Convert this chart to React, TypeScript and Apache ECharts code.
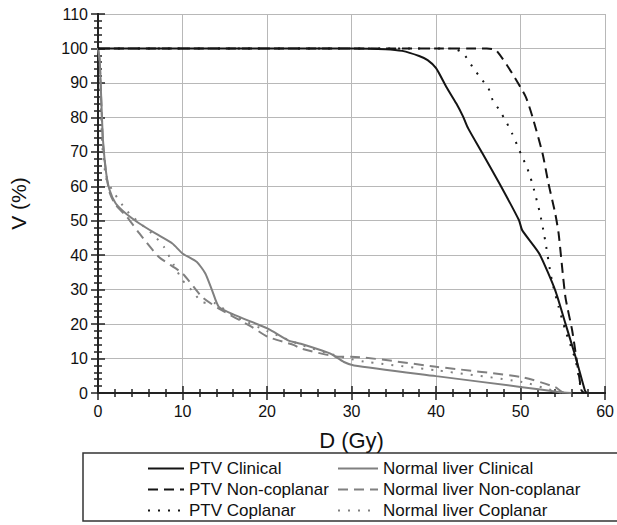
import React, { useEffect, useRef } from "react";
import * as echarts from "echarts";

const ptvClinicalD = [0, 30, 34, 36, 38, 39, 40, 41.2, 42.4, 43.2, 43.8, 45.5, 47.5, 49.8, 50.2, 52.2, 54.1, 55.3, 56.5, 57.6, 57.8];
const ptvClinicalV = [100, 100, 99.8, 99.3, 97.8, 96.6, 94.3, 88.9, 84.0, 80.2, 76.8, 69.5, 60.8, 50.2, 47.2, 40.5, 29.8, 20.2, 10.5, 0.8, 0];

const ptvNonD = [0, 40, 46, 47.1, 49.0, 50.6, 51.4, 52.6, 53.3, 54.1, 54.5, 55.3, 56.1, 56.7, 57.2, 57.5];
const ptvNonV = [100, 100, 100, 99.5, 92.8, 86, 80.2, 69.5, 60.8, 52.1, 46.3, 27.9, 18.2, 8.5, 0.8, 0];

const ptvCopD = [0, 42, 43.2, 44.3, 45.3, 46.2, 46.7, 47.5, 48.3, 49.0, 49.6, 50.2, 50.8, 51.2, 51.6, 51.9, 52.3, 52.8, 53.7, 54.5, 55.3, 56.5, 57.1, 57.3];
const ptvCopV = [100, 100, 98.6, 94.7, 91.3, 88.4, 85.0, 82.1, 78.7, 75.3, 71.9, 68.5, 65.2, 62.3, 58.9, 56.0, 52.1, 45.8, 32.7, 25, 18.2, 9.5, 1.7, 0];

const liverClinicalD = [0, 0.2, 0.39, 0.59, 0.97, 1.37, 2.1, 3.3, 4.9, 6.8, 8.8, 10.0, 11.7, 12.7, 13.5, 14.3, 16.2, 20.1, 22.5, 24, 26.4, 27.5, 29.1, 30.3, 40.0, 50.2, 54.5, 56];
const liverClinicalV = [100, 96.6, 85, 73.4, 63.8, 58.9, 55.0, 52.1, 49.2, 46.3, 43.4, 40.5, 38.0, 34.7, 29.8, 25.0, 22.6, 18.7, 15.3, 14.3, 12.4, 11.4, 9.0, 8.0, 4.9, 1.7, 0.3, 0];

const liverNonD = [0, 0.2, 0.4, 0.6, 1.0, 1.4, 2.1, 3.3, 4.9, 7.2, 10.0, 12.3, 14.3, 18.2, 20.1, 23.2, 24.0, 28.7, 29.9, 40.0, 50.2, 54.1, 54.9, 56];
const liverNonV = [100, 96, 84, 72, 63, 58, 54.5, 51.5, 46.3, 39.5, 34.7, 27.9, 24.5, 19.2, 16.3, 13.9, 12.9, 10.5, 10.5, 7.6, 4.6, 1.7, 0.3, 0];

const liverCopD = [0, 0.2, 0.5, 1.0, 1.95, 2.9, 3.9, 6.6, 7.8, 9.0, 10.0, 11.1, 12.3, 13.9, 16, 20, 24, 28, 30, 31.8, 40, 50.2, 53.7, 55];
const liverCopV = [100, 96, 72, 62, 57.9, 54.5, 51.6, 45.8, 42.4, 37, 32.7, 29.8, 26.4, 26.0, 22.5, 18, 14, 11, 9.8, 9.0, 6.6, 3.2, 0.8, 0];

const ptvNames = ["PTV Clinical", "PTV Non-coplanar", "PTV Coplanar"];
const liverNames = ["Normal liver Clinical", "Normal liver Non-coplanar", "Normal liver Coplanar"];

const xTicks = { min: 0, max: 60, interval: 10 };
const yTicks = { min: 0, max: 110, interval: 10 };

const FONT = "'Liberation Sans', Arial, sans-serif";
const BLACK = "#141414";
const GRAY = "#808080";

function zip(d: number[], v: number[]) {
  return d.map((x, i) => [x, v[i]]);
}

export default function App() {
  const ref = useRef<HTMLDivElement>(null);
  useEffect(() => {
    if (!ref.current) return;
    const chart = echarts.init(ref.current, undefined, { renderer: "svg" });
    const axisLine = { show: true, lineStyle: { color: "#222", width: 2 } };
    const tick = { show: true, inside: true, length: 7, lineStyle: { color: "#222", width: 1.5 } };
    const minor = { show: true, splitNumber: 5, length: 4, lineStyle: { color: "#222", width: 1.5 } };
    const mk = (name: string, d: number[], v: number[], color: string, type: any) => ({
      name,
      type: "line",
      data: zip(d, v),
      showSymbol: false,
      symbol: "none",
      smooth: 0.2,
      lineStyle: { color, width: 2, type, cap: "butt" },
      itemStyle: { color },
      xAxisIndex: 0,
      yAxisIndex: 0,
      z: color === BLACK ? 3 : 2,
    });
    const legendBase = {
      orient: "vertical",
      top: 455,
      height: 100,
      itemHeight: 14,
      itemGap: 4,
      itemStyle: { opacity: 0 },
      textStyle: { fontSize: 17, color: "#111", fontFamily: FONT },
    };
    chart.setOption({
      animation: false,
      backgroundColor: "#fff",
      textStyle: { fontFamily: FONT },
      grid: { left: 95, right: 10, top: 14, bottom: 132, containLabel: false },
      xAxis: [
        {
          type: "value",
          ...xTicks,
          position: "bottom",
          name: "D (Gy)",
          nameLocation: "middle",
          nameGap: 36,
          nameTextStyle: { fontSize: 22, color: "#111", fontFamily: FONT },
          axisLine,
          axisTick: tick,
          minorTick: minor,
          axisLabel: { fontSize: 16, color: "#111", margin: 10, fontFamily: FONT },
          splitLine: { show: true, lineStyle: { color: "#b8b8b8", width: 1 } },
        },
        {
          type: "value",
          ...xTicks,
          position: "top",
          axisLine,
          axisTick: tick,
          minorTick: minor,
          axisLabel: { show: false },
          splitLine: { show: false },
        },
      ],
      yAxis: [
        {
          type: "value",
          ...yTicks,
          position: "left",
          name: "V (%)",
          nameLocation: "middle",
          nameGap: 69,
          nameRotate: 90,
          nameTextStyle: { fontSize: 21, color: "#111", fontFamily: FONT },
          axisLine,
          axisTick: tick,
          minorTick: minor,
          axisLabel: { fontSize: 16, color: "#111", margin: 10, fontFamily: FONT },
          splitLine: { show: true, lineStyle: { color: "#b8b8b8", width: 1 } },
        },
        {
          type: "value",
          ...yTicks,
          position: "right",
          axisLine,
          axisTick: tick,
          minorTick: minor,
          axisLabel: { show: false },
          splitLine: { show: false },
        },
      ],
      legend: [
        { ...legendBase, data: ptvNames, left: 142, itemWidth: 36 },
        { ...legendBase, data: liverNames, left: 332, itemWidth: 40 },
      ],
      graphic: [
        {
          type: "rect",
          shape: { x: 83, y: 453, width: 600, height: 68 },
          style: { fill: "none", stroke: "#333", lineWidth: 1.5 },
          silent: true,
        },
      ],
      series: [
        mk(ptvNames[0], ptvClinicalD, ptvClinicalV, BLACK, "solid"),
        mk(ptvNames[1], ptvNonD, ptvNonV, BLACK, [10, 6]),
        mk(ptvNames[2], ptvCopD, ptvCopV, BLACK, [2, 8]),
        mk(liverNames[0], liverClinicalD, liverClinicalV, GRAY, "solid"),
        mk(liverNames[1], liverNonD, liverNonV, GRAY, [10, 6]),
        mk(liverNames[2], liverCopD, liverCopV, GRAY, [2, 8]),
      ],
    });
    return () => chart.dispose();
  }, []);
  return <div ref={ref} style={{ width: 617, height: 525, position: "absolute", left: 0, top: 0 }} />;
}
